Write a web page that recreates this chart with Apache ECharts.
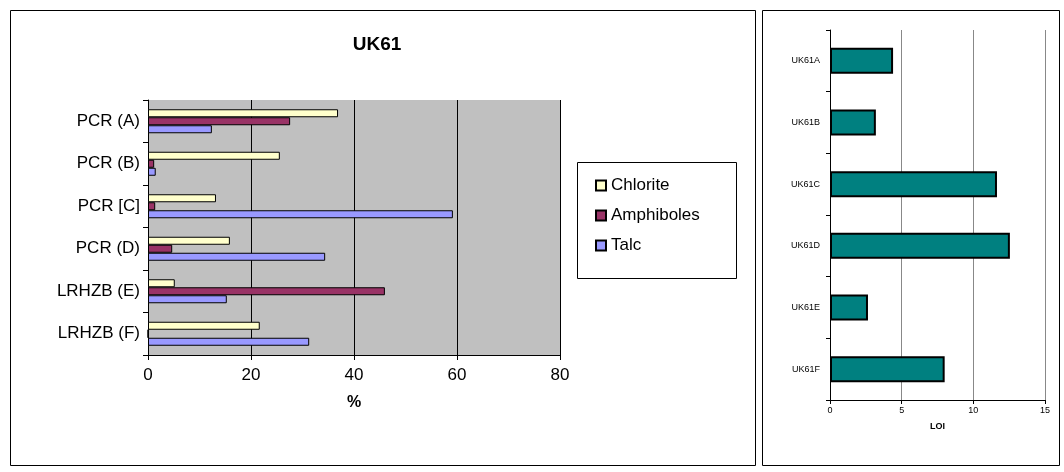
<!DOCTYPE html><html><head><meta charset="utf-8">
<script src="https://cdn.jsdelivr.net/npm/echarts@6/dist/echarts.min.js"></script>
<style>body{margin:0;background:#fff}#c{width:1064px;height:472px}</style></head><body><div id="c"></div><script>
const categories=['PCR (A)','PCR (B)','PCR [C]','PCR (D)','LRHZB (E)','LRHZB (F)'];
const chlorite=[36.9,25.6,13.2,15.9,5.2,21.7];
const amphiboles=[27.6,1.2,1.4,4.7,46.0,0];
const talc=[12.4,1.5,59.2,34.4,15.3,31.3];
const samples=['UK61A','UK61B','UK61C','UK61D','UK61E','UK61F'];
const loi=[4.4,3.2,11.65,12.55,2.65,8.0];
const ff='Liberation Sans, Arial';
const bs=(c)=>({type:'bar',xAxisIndex:0,yAxisIndex:0,barWidth:8,barGap:'0%',itemStyle:{color:c,borderColor:'#000',borderWidth:1}});
const chart=echarts.init(document.getElementById('c'));
chart.setOption({animation:false,textStyle:{fontFamily:ff},
graphic:[
{type:'rect',shape:{x:10.5,y:10.5,width:745,height:455},style:{fill:'none',stroke:'#000',lineWidth:1}},
{type:'rect',shape:{x:762.5,y:10.5,width:297,height:455},style:{fill:'none',stroke:'#000',lineWidth:1}},
{type:'rect',shape:{x:577.5,y:162.5,width:159,height:116},style:{fill:'#fff',stroke:'#000',lineWidth:1}}
],
title:{text:'UK61',left:372,top:30,textAlign:'center',textStyle:{fontFamily:ff,fontSize:19,fontWeight:'bold',color:'#000'}},
legend:{orient:'vertical',left:590,top:172,icon:'rect',itemWidth:10,itemHeight:10,itemGap:13,textStyle:{fontFamily:ff,fontSize:17,color:'#000'},data:['Chlorite','Amphiboles','Talc']},
grid:[{left:148,top:100,width:412,height:255,show:true,backgroundColor:'#C0C0C0',borderWidth:0},
{left:830,top:30,width:215,height:370,show:false}],
xAxis:[{gridIndex:0,type:'value',min:0,max:80,interval:20,name:'%',nameLocation:'middle',nameGap:40,nameTextStyle:{fontFamily:ff,fontSize:16,fontWeight:'bold',color:'#000'},
axisLine:{show:true,lineStyle:{color:'#000'}},axisTick:{show:true,inside:false,length:5,lineStyle:{color:'#000'}},axisLabel:{fontSize:17,color:'#000',margin:12},splitLine:{lineStyle:{color:'#000'}}},
{gridIndex:1,type:'value',min:0,max:15,interval:5,name:'LOI',nameLocation:'middle',nameGap:22,nameTextStyle:{fontFamily:ff,fontSize:9,fontWeight:'bold',color:'#000'},
axisLine:{show:true,lineStyle:{color:'#000'}},axisTick:{show:true,length:4,lineStyle:{color:'#000'}},axisLabel:{fontSize:9,color:'#000',margin:6},splitLine:{lineStyle:{color:'#888'}}}],
yAxis:[{gridIndex:0,type:'category',data:categories,inverse:true,axisLine:{lineStyle:{color:'#000'}},axisTick:{show:true,length:5,lineStyle:{color:'#000'}},axisLabel:{fontSize:17,color:'#000',margin:8}},
{gridIndex:1,type:'category',data:samples,inverse:true,axisLine:{lineStyle:{color:'#000'}},axisTick:{show:true,length:4,lineStyle:{color:'#000'}},axisLabel:{fontSize:9,color:'#000',margin:10}}],
series:[
Object.assign(bs('#FFFFCC'),{name:'Chlorite',data:chlorite}),
Object.assign(bs('#993366'),{name:'Amphiboles',data:amphiboles}),
Object.assign(bs('#9999FF'),{name:'Talc',data:talc}),
{type:'bar',name:'LOI',xAxisIndex:1,yAxisIndex:1,barWidth:26,data:loi,itemStyle:{color:'#008080',borderColor:'#000',borderWidth:2}}
]});
</script></body></html>
